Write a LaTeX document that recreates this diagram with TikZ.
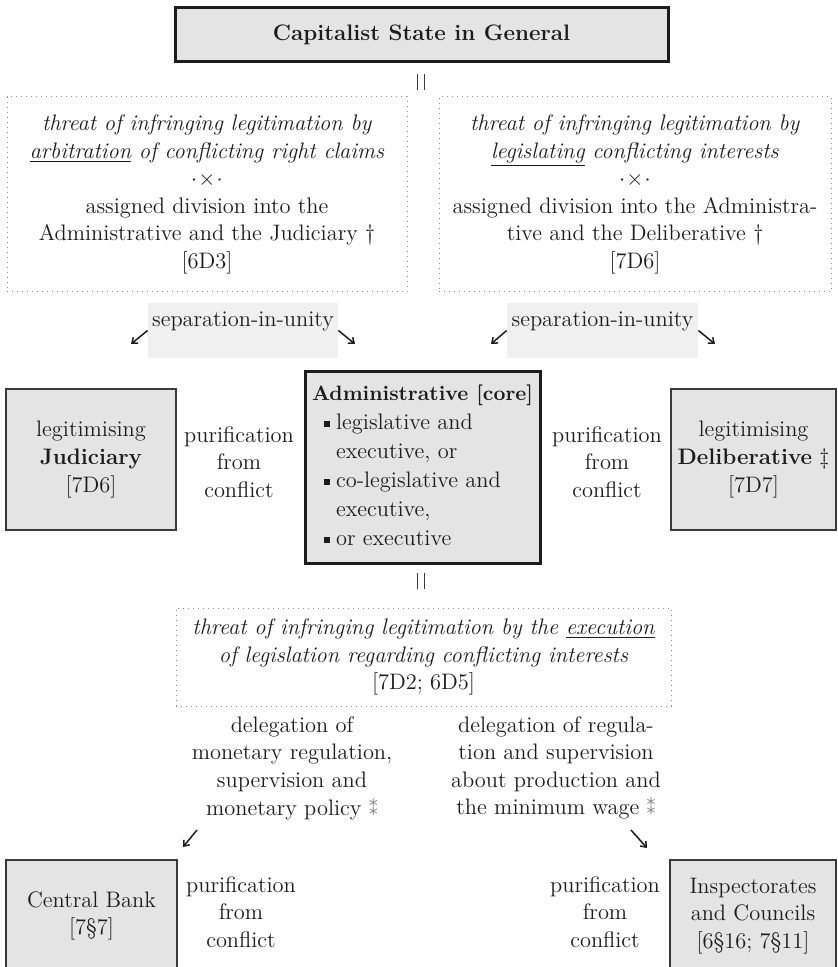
\documentclass[tikz,border=0pt]{standalone}
\usepackage{fontspec}
\usepackage{tikz}
\usetikzlibrary{arrows.meta,positioning}
\newfontfamily\symfont{DejaVu Sans}
\definecolor{Ink}{HTML}{1C1C1C}
\definecolor{Frame}{HTML}{3A3A3A}
\definecolor{BoxFill}{HTML}{E4E4E4}
\definecolor{BandFill}{HTML}{F0F0F0}
\definecolor{Dots}{HTML}{8A8A8A}
\newcommand{\sqbul}{\raisebox{0.3ex}{\rule{0.27em}{0.27em}}}
\newcommand{\dblstar}{{\color{Dots}\symfont\small ⁑}}
\newcommand{\eqbars}{\rule{.7pt}{8pt}\hspace{2.6pt}\rule{.7pt}{8pt}}
\tikzset{
  headbox/.style={draw=Ink,fill=BoxFill,line width=1.5pt,align=center,inner sep=0pt},
  sidebox/.style={draw=Frame,fill=BoxFill,line width=.9pt,align=center,inner sep=0pt},
  threat/.style={draw=Dots,dotted,line width=.5pt,fill=white,align=center,inner sep=0pt},
  band/.style={fill=BandFill,inner xsep=0pt,inner ysep=4pt,text height=8pt,text depth=11.5pt},
  note/.style={align=center,inner sep=0pt},
  eqmark/.style={inner sep=0pt,text=Frame},
  pointer/.style={-{Straight Barb[length=2.4pt,width=3.8pt]},line width=.75pt,draw=Ink}
}
\begin{document}
\begin{tikzpicture}[x=.5pt,y=-.5pt,font=\fontsize{11.2}{13.8}\selectfont,text=Ink]
  \clip (0,0) rectangle (838,967);
  \fill[white] (0,0) rectangle (838,967);
  % top level
  \node[headbox,minimum width=246.5pt,minimum height=27pt] (top) at (421.5,35) {\textbf{Capitalist State in General}};
  \node[eqmark] (eqA) at (421,82) {\eqbars};
  \node[threat,minimum width=200pt,minimum height=97.5pt] (thrL) at (207,194.5) {\textit{threat of infringing legitimation by}\\\textit{\underline{arbitration} of conflicting right claims}\\$\cdot\!\times\!\cdot$\\assigned division into the\\Administrative and the Judiciary \dag\\{}[6D3]};
  \node[threat,minimum width=196pt,minimum height=97.5pt] (thrR) at (635,194.5) {\textit{threat of infringing legitimation by}\\\textit{\underline{legislating} conflicting interests}\\$\cdot\!\times\!\cdot$\\assigned division into the Administra-\\tive and the Deliberative \dag\\{}[7D6]};
  \node[band,minimum width=95pt] (sepL) at (243,330.5) {separation-in-unity};
  \node[band,minimum width=95.5pt] (sepR) at (602.5,330.5) {separation-in-unity};
  \coordinate (sepLl) at (131,344);
  \coordinate (sepLr) at (355,344);
  \coordinate (sepRl) at (491,344);
  \coordinate (sepRr) at (715,344);
  \draw[pointer] (sepL.west) -- (sepLl);
  \draw[pointer] (sepL.east) -- (sepLr);
  \draw[pointer] (sepR.west) -- (sepRl);
  \draw[pointer] (sepR.east) -- (sepRr);
  % middle row
  \node[sidebox,minimum width=85pt,minimum height=70.5pt] (jud) at (91,459.5) {legitimising\\\textbf{Judiciary}\\{}[7D6]};
  \node[note] (purL) at (239,462) {purification\\from\\conflict};
  \node[headbox,minimum width=117.5pt,minimum height=95.5pt] (core) at (422.5,467.5) {\renewcommand{\arraystretch}{1.05}%
    \begin{tabular}{@{\hspace{6pt}}l@{\hspace{3pt}}l@{}}
      \multicolumn{2}{@{}l@{}}{\fontsize{10.4}{13.8}\selectfont\textbf{Administrative [core]}}\\
      \sqbul & legislative and\\
             & executive, or\\
      \sqbul & co-legislative and\\
             & executive,\\
      \sqbul & or executive
    \end{tabular}};
  \node[note] (purR) at (607,462) {purification\\from\\conflict};
  \node[sidebox,minimum width=82.5pt,minimum height=70.5pt] (delib) at (753.5,459.5) {legitimising\\\textbf{Deliberative} \ddag\\{}[7D7]};
  % lower level
  \node[eqmark] (eqB) at (421,581) {\eqbars};
  \node[threat,minimum width=247.5pt,minimum height=49pt] (thrB) at (423.5,657) {\textit{threat of infringing legitimation by the \underline{execution}}\\\textit{of legislation regarding conflicting interests}\\{}[7D2; 6D5]};
  \node[note] (dlgL) at (292,768) {delegation of\\monetary regulation,\\supervision and\\monetary policy \dblstar};
  \node[note] (dlgR) at (556,768) {delegation of regula-\\tion and supervision\\about production and\\the minimum wage \dblstar};
  \coordinate (cbTip) at (183,847);
  \coordinate (inspTip) at (647,848);
  \draw[pointer] ([shift={(-95,10)}]dlgL.south) -- (cbTip);
  \draw[pointer] ([shift={(75,10)}]dlgR.south) -- (inspTip);
  \node[sidebox,minimum width=85.5pt,minimum height=56pt] (cbank) at (91.5,916) {Central Bank\\{}[7\S7]};
  \node[note] (purBL) at (241,912) {purification\\from\\conflict};
  \node[note] (purBR) at (605,912) {purification\\from\\conflict};
  \node[sidebox,minimum width=83pt,minimum height=56pt] (insp) at (753,916) {Inspectorates\\and Councils\\{}[6\S16; 7\S11]};
\end{tikzpicture}
\end{document}
